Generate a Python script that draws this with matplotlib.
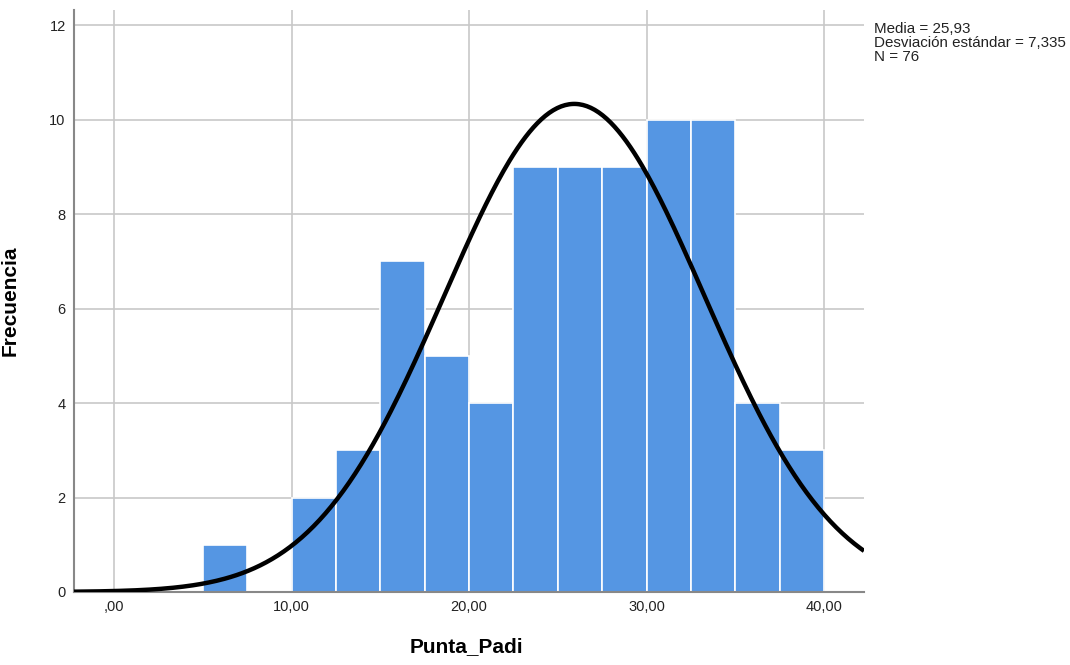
import numpy as np
import matplotlib.pyplot as plt

plt.rcParams['font.family'] = ['Liberation Sans', 'DejaVu Sans']

# Histograma de Punta_Padi (intervalos de 2,5)
bin_edges = [5.0, 7.5, 10.0, 12.5, 15.0, 17.5, 20.0, 22.5, 25.0, 27.5, 30.0, 32.5, 35.0, 37.5, 40.0]
frecuencias = [1, 0, 2, 3, 7, 5, 4, 9, 9, 9, 10, 10, 4, 3]
media = 25.93
desv = 7.335
n = 76
x_ticks = [0, 10, 20, 30, 40]
x_labels = [",00", "10,00", "20,00", "30,00", "40,00"]
y_ticks = [0, 2, 4, 6, 8, 10, 12]

fig = plt.figure(figsize=(10.7, 6.65), dpi=100)
ax = fig.add_axes([0.0692, 0.1098, 0.7383, 0.875])

xmin, xmax = -2.25, 42.25
ax.set_xlim(xmin, xmax)
ax.set_ylim(0, 12.32)

ax.grid(True, color='#c8c8c8', linewidth=1.2)
ax.set_axisbelow(True)

anchos = np.diff(bin_edges)
ax.bar(bin_edges[:-1], frecuencias, width=anchos, align='edge',
       color='#5596e3', edgecolor='white', linewidth=1.2, zorder=2)

# Curva normal escalada a frecuencias
xs = np.linspace(xmin, xmax, 400)
ancho = bin_edges[1] - bin_edges[0]
ys = n * ancho / (desv * np.sqrt(2 * np.pi)) * np.exp(-0.5 * ((xs - media) / desv) ** 2)
ax.plot(xs, ys, color='black', linewidth=3.2, zorder=3, solid_capstyle='butt')

ax.set_xticks(x_ticks)
ax.set_xticklabels(x_labels)
ax.set_yticks(y_ticks)
ax.tick_params(length=0, labelsize=10.5, colors='#222222', pad=6)

for s in ['top', 'right']:
    ax.spines[s].set_visible(False)
for s in ['left', 'bottom']:
    ax.spines[s].set_color('#888888')
    ax.spines[s].set_linewidth(1.5)

ax.set_xlabel('Punta_Padi', fontsize=15, fontweight='bold')
ax.set_ylabel('Frecuencia', fontsize=15, fontweight='bold')
ax.xaxis.set_label_coords(0.497, -0.078)
ax.yaxis.set_label_coords(-0.069, 0.5)

fig.text(0.8165, 0.967, "Media = 25,93\nDesviación estándar = 7,335\nN = 76",
         fontsize=10.9, va='top', ha='left', linespacing=1.0, color='#222222')

fig.savefig('out.png', dpi=100)
